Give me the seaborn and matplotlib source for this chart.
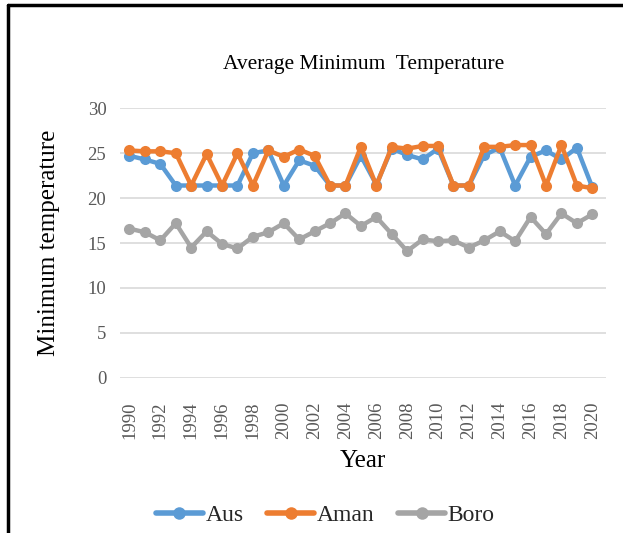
import matplotlib
matplotlib.use("Agg")
import matplotlib.pyplot as plt
import seaborn as sns
import pandas as pd
from matplotlib.lines import Line2D

years = list(range(1990, 2021))
aus = [24.7, 24.3, 23.8, 21.4, 21.4, 21.4, 21.4, 21.4, 25.0, 25.3, 21.4,
       24.2, 23.6, 21.4, 21.4, 24.7, 21.5, 25.5, 24.8, 24.3, 25.5,
       21.4, 21.4, 24.8, 25.6, 21.4, 24.6, 25.3, 24.3, 25.6, 21.2]
aman = [25.3, 25.2, 25.2, 25.0, 21.4, 24.9, 21.4, 25.0, 21.4, 25.3, 24.6,
        25.4, 24.7, 21.4, 21.4, 25.7, 21.4, 25.7, 25.5, 25.8, 25.8,
        21.4, 21.4, 25.7, 25.7, 25.9, 25.9, 21.4, 25.9, 21.4, 21.1]
boro = [16.6, 16.2, 15.3, 17.2, 14.5, 16.3, 14.9, 14.4, 15.7, 16.2, 17.2,
        15.4, 16.3, 17.2, 18.3, 16.9, 17.9, 16.0, 14.1, 15.4, 15.2,
        15.3, 14.5, 15.3, 16.3, 15.2, 17.9, 16.0, 18.3, 17.2, 18.2]
series_names = ["Aus", "Aman", "Boro"]
colors = ["#5B9BD5", "#ED7D31", "#A5A5A5"]
yticks = [0, 5, 10, 15, 20, 25, 30]
xticks = list(range(1990, 2021, 2))

df = pd.DataFrame({
    "Year": years * 3,
    "Value": aus + aman + boro,
    "Series": sum([[n] * len(years) for n in series_names], []),
})

sns.set_theme(style="white")
plt.rcParams["font.family"] = ["Liberation Serif", "DejaVu Serif"]

fig = plt.figure(figsize=(6.23, 5.33), dpi=100)
ax = fig.add_axes([0.193, 0.291, 0.78, 0.506])

sns.lineplot(data=df, x="Year", y="Value", hue="Series", hue_order=series_names,
             palette=colors, marker="o", markersize=8, markeredgewidth=0,
             linewidth=3.2, ax=ax, legend=False)

ax.set_ylim(0, 30)
ax.set_xlim(1989.4, 2020.9)
ax.set_yticks(yticks)
ax.set_xticks(xticks)
ax.set_xticklabels([str(x) for x in xticks], rotation=90)
ax.yaxis.grid(True, color="#D9D9D9", linewidth=1.2)
ax.xaxis.grid(False)
for s in ax.spines.values():
    s.set_visible(False)
ax.tick_params(axis="x", length=0, labelsize=13.5, colors="#595959", pad=17)
ax.tick_params(axis="y", length=0, labelsize=13.5, colors="#595959", pad=10)
ax.set_xlabel("Year", fontsize=18, color="black", labelpad=8)
ax.set_ylabel("Minimum temperature", fontsize=18, color="black", labelpad=20)
ax.set_title("Average Minimum  Temperature", fontsize=15.5, color="black", pad=28)

handles = [Line2D([0], [0], color=c, linewidth=4, marker="o", markersize=9,
                  markeredgewidth=0) for c in colors]
fig.legend(handles, series_names, loc="center", bbox_to_anchor=(0.522, 0.033),
           ncol=3, frameon=False, fontsize=17, handlelength=2.0,
           handletextpad=0.1, columnspacing=1.0)

# outer frame lines (left and top)
fig.add_artist(Line2D([0.0128, 0.0128], [0, 0.99], transform=fig.transFigure,
                      color="black", linewidth=2.5))
fig.add_artist(Line2D([0.0128, 1.0], [0.99, 0.99], transform=fig.transFigure,
                      color="black", linewidth=2.5))

fig.savefig("out.png", dpi=100)
